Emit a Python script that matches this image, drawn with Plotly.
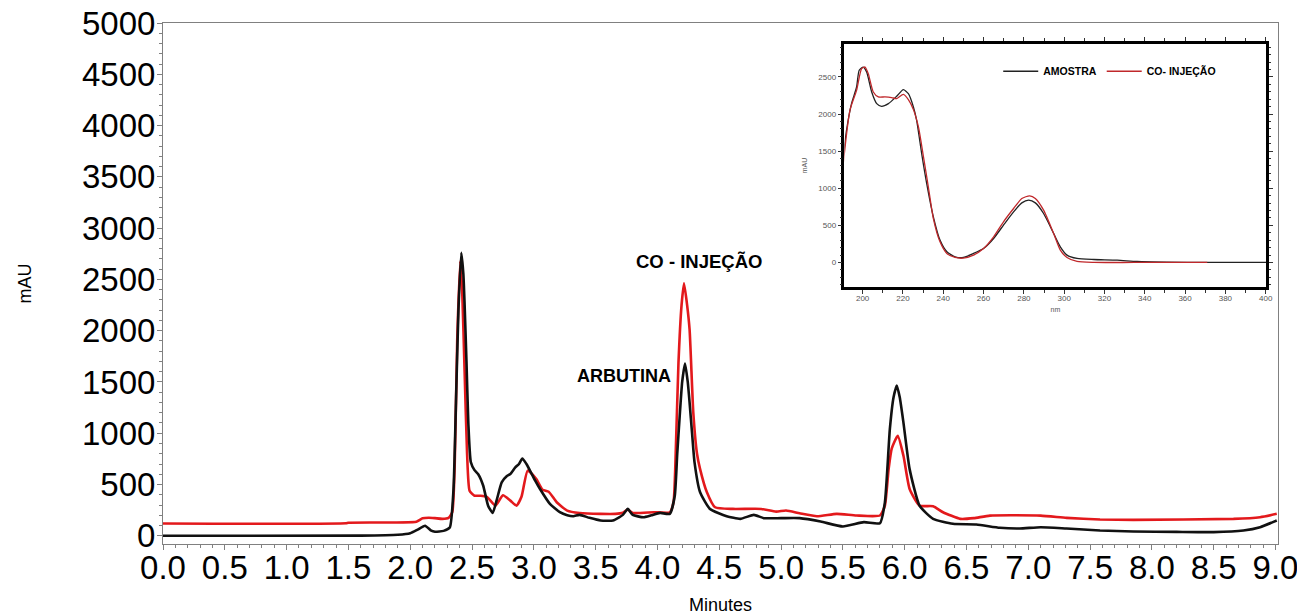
import plotly.graph_objects as go

# ---------------- Main chromatogram data ----------------
# AMOSTRA (sample) - black trace
amostra_t = [0, 1.6, 1.9, 2.0, 2.06, 2.12, 2.17, 2.2, 2.27, 2.32, 2.35, 2.37, 2.39, 2.413, 2.43,
             2.44, 2.455, 2.47, 2.49, 2.52, 2.55, 2.59, 2.63, 2.667, 2.70, 2.74, 2.78, 2.81, 2.85,
             2.88, 2.907, 2.94, 2.97, 3.01, 3.05, 3.13, 3.21, 3.27, 3.32, 3.37, 3.45, 3.54, 3.64,
             3.69, 3.72, 3.76, 3.80, 3.886, 3.95, 4.02, 4.10, 4.14, 4.16, 4.18, 4.20, 4.223, 4.245,
             4.26, 4.28, 4.30, 4.345, 4.425, 4.56, 4.67, 4.78, 4.86, 5.0, 5.15, 5.32, 5.50, 5.67,
             5.80, 5.84, 5.88, 5.91, 5.936, 5.96, 5.99, 6.04, 6.12, 6.23, 6.39, 6.58, 6.77, 6.93,
             7.10, 7.31, 7.58, 7.85, 8.20, 8.50, 8.74, 8.875, 9.01]
amostra_mau = [0, 2, 10, 25, 60, 98, 50, 40, 48, 80, 450, 1300, 2200, 2760, 2550,
               2250, 1700, 1100, 720, 640, 600, 490, 294, 223, 350, 521, 580, 602, 667,
               700, 754, 700, 634, 540, 456, 311, 230, 200, 191, 204, 175, 149, 149,
               180, 204, 262, 204, 181, 200, 223, 214, 391, 800, 1168, 1500, 1680, 1500,
               1298, 1000, 716, 424, 262, 191, 165, 204, 172, 172, 172, 139, 91, 133,
               123, 327, 1039, 1350, 1466, 1350, 1104, 650, 294, 165, 117, 110, 78, 71,
               84, 71, 52, 42, 38, 36, 52, 84, 149]

# CO-INJEÇÃO - red trace
coinj_t = [0, 1.48, 1.5, 2.05, 2.1, 2.15, 2.2, 2.26, 2.31, 2.34, 2.36, 2.38, 2.405, 2.42, 2.44,
           2.46, 2.48, 2.52, 2.57, 2.62, 2.69, 2.75, 2.81, 2.86, 2.90, 2.95, 3.02, 3.07, 3.12,
           3.185, 3.27, 3.37, 3.54, 3.66, 3.72, 3.76, 3.80, 3.97, 4.10, 4.13, 4.15, 4.17, 4.195,
           4.215, 4.24, 4.26, 4.29, 4.32, 4.345, 4.40, 4.466, 4.61, 4.84, 4.96, 5.04, 5.15, 5.29,
           5.45, 5.61, 5.80, 5.84, 5.87, 5.895, 5.944, 5.99, 6.04, 6.12, 6.23, 6.31, 6.45, 6.56,
           6.69, 7.10, 7.31, 7.58, 7.85, 8.66, 8.875, 9.01]
coinj_mau = [120, 122, 128, 138, 170, 176, 172, 165, 175, 230, 700, 1900, 2680, 2400, 1600,
             800, 440, 391, 391, 380, 294, 395, 343, 294, 380, 635, 553, 450, 430,
             327, 246, 223, 214, 214, 225, 256, 223, 230, 230, 327, 900, 1686, 2250,
             2463, 2250, 2010, 1201, 800, 650, 424, 278, 262, 262, 236, 246, 220, 191,
             214, 198, 198, 295, 650, 850, 974, 780, 456, 294, 288, 230, 165, 172,
             197, 197, 175, 159, 155, 165, 181, 214]

# ---------------- Inset UV spectra data ----------------
amostra_nm = [190.4, 192, 194.5, 197, 198.3, 200.3, 202, 204.5, 207, 209.4, 212.8, 216.9, 220.2,
              222.7, 225.2, 226.8, 229.3, 231.8, 235.1, 238.4, 241.8, 245.9, 250, 255, 260, 265,
              269.9, 274.9, 279, 282.4, 285.7, 289.8, 294.8, 298.1, 301.4, 306.4, 314.7, 326.3,
              336.2, 351, 371, 400.3]
amostra_uv = [1423, 1782, 2141, 2365, 2590, 2634, 2567, 2298, 2141, 2105, 2141, 2240, 2329,
              2275, 2096, 1916, 1468, 1064, 615, 301, 144, 76, 67, 121, 188, 323,
              503, 682, 803, 839, 803, 660, 390, 211, 99, 54, 40, 31,
              13, 4, 0, 0]
coinj_nm = [190.4, 193.7, 197, 199.5, 201.2, 202.8, 205.3, 207.8, 211.1, 214.4, 216.9, 220.2,
            222.7, 225.2, 227.7, 230.2, 232.6, 235.1, 238.4, 241.8, 245.9, 250, 255, 260, 265,
            269.9, 274.9, 279, 282.9, 285.7, 289.8, 294.8, 298.1, 301.4, 306.4, 314.7, 334.6, 371]
coinj_uv = [1333, 2051, 2320, 2612, 2634, 2545, 2298, 2231, 2231, 2222, 2208, 2266,
            2195, 2060, 1827, 1423, 1019, 592, 278, 121, 67, 58, 99, 188, 346,
            548, 727, 862, 898, 862, 705, 390, 166, 67, 13, 0, 0, 0]

main_yticks = [0, 500, 1000, 1500, 2000, 2500, 3000, 3500, 4000, 4500, 5000]
inset_xticks = list(range(200, 401, 20))
inset_yticks = [0, 500, 1000, 1500, 2000, 2500]

BLACK = "#111111"
RED = "#e3191c"
FONT = "Liberation Sans, Arial, sans-serif"

fig = go.Figure()

fig.add_trace(go.Scatter(x=coinj_t, y=coinj_mau, mode="lines", showlegend=False,
                         line=dict(color=RED, width=2.6, shape="spline", smoothing=0.5),
                         xaxis="x", yaxis="y"))
fig.add_trace(go.Scatter(x=amostra_t, y=amostra_mau, mode="lines", showlegend=False,
                         line=dict(color=BLACK, width=2.6, shape="spline", smoothing=0.5),
                         xaxis="x", yaxis="y"))

fig.add_trace(go.Scatter(x=amostra_nm, y=amostra_uv, mode="lines", name="<b>AMOSTRA</b>",
                         line=dict(color="#222222", width=1.3, shape="spline", smoothing=0.6),
                         xaxis="x2", yaxis="y2"))
fig.add_trace(go.Scatter(x=coinj_nm, y=coinj_uv, mode="lines", name="<b>CO- INJEÇÃO</b>",
                         line=dict(color="#c0282b", width=1.3, shape="spline", smoothing=0.6),
                         xaxis="x2", yaxis="y2"))

L, R, T, B = 163, 19.3, 22.7, 71
W, H = 1297, 615
pw, ph = W - L - R, H - T - B

def px_x(x):
    return (x - L) / pw

def px_y(y):
    return (H - B - y) / ph

fig.update_layout(
    width=W, height=H,
    margin=dict(l=L, r=R, t=T, b=B, pad=0, autoexpand=False),
    paper_bgcolor="white", plot_bgcolor="white",
    font=dict(family=FONT, color="black"),
    xaxis=dict(
        domain=[0, 1], range=[0, 9.02], showgrid=False, zeroline=False, automargin=False,
        tickmode="array", tickvals=[i * 0.5 for i in range(19)],
        ticktext=[f"{i * 0.5:.1f}" for i in range(19)],
        tickfont=dict(size=33, family=FONT, color="black"),
        ticks="outside", ticklen=5, tickcolor="#808080", ticklabeloverflow="allow",
        ticklabelstandoff=-11,
        minor=dict(dtick=0.1, ticks="outside", ticklen=3, tickcolor="#808080"),
        showline=True, linecolor="#808080", linewidth=1, mirror=True,
        title=dict(text="Minutes", font=dict(size=18, family=FONT), standoff=19),
    ),
    yaxis=dict(
        domain=[0, 1], range=[-80, 5000], showgrid=False, zeroline=False, automargin=False,
        tickmode="array", tickvals=main_yticks, ticktext=[str(v) for v in main_yticks],
        tickfont=dict(size=33, family=FONT, color="black"),
        ticks="outside", ticklen=5, tickcolor="#808080", ticklabelstandoff=-5,
        minor=dict(dtick=100, ticks="outside", ticklen=3, tickcolor="#808080"),
        showline=True, linecolor="#808080", linewidth=1, mirror=True,
        title=dict(text="mAU", font=dict(size=18, family=FONT), standoff=45),
    ),
    xaxis2=dict(
        domain=[px_x(844.3), px_x(1266)], anchor="y2", range=[191, 400.3], automargin=False,
        showgrid=False, zeroline=False,
        tickmode="array", tickvals=inset_xticks, ticktext=[str(v) for v in inset_xticks],
        tickfont=dict(size=8, color="#555555", family=FONT),
        ticks="outside", ticklen=4, tickcolor="#333333", ticklabelstandoff=-3,
        minor=dict(dtick=10, ticks="outside", ticklen=3, tickcolor="#333333"),
        showline=True, linecolor="black", linewidth=2.5, mirror="ticks",
        title=dict(text="nm", font=dict(size=7, color="#555555", family=FONT), standoff=6),
    ),
    yaxis2=dict(
        domain=[px_y(287.3), px_y(43.3)], anchor="x2", range=[-337, 2950], automargin=False,
        showgrid=False, zeroline=False,
        tickmode="array", tickvals=inset_yticks, ticktext=[str(v) for v in inset_yticks],
        tickfont=dict(size=8, color="#555555", family=FONT),
        ticks="outside", ticklen=4, tickcolor="#333333",
        minor=dict(dtick=100, ticks="outside", ticklen=2, tickcolor="#333333"),
        showline=True, linecolor="black", linewidth=2.5, mirror="ticks",
        title=dict(text="mAU", font=dict(size=7, color="#555555", family=FONT), standoff=10),
    ),
    legend=dict(
        orientation="h", x=px_x(998), y=px_y(71), xanchor="left", yanchor="middle",
        font=dict(size=10.5, family=FONT, color="black"), bgcolor="rgba(0,0,0,0)",
        itemwidth=35, tracegroupgap=0,
    ),
    annotations=[
        dict(text="<b>CO - INJEÇÃO</b>", x=4.34, y=2670, xref="x", yref="y",
             showarrow=False, font=dict(size=18.5, family=FONT, color="black")),
        dict(text="<b>ARBUTINA</b>", x=3.73, y=1560, xref="x", yref="y",
             showarrow=False, font=dict(size=18, family=FONT, color="black")),
    ],
)

fig.write_html("out.html")
